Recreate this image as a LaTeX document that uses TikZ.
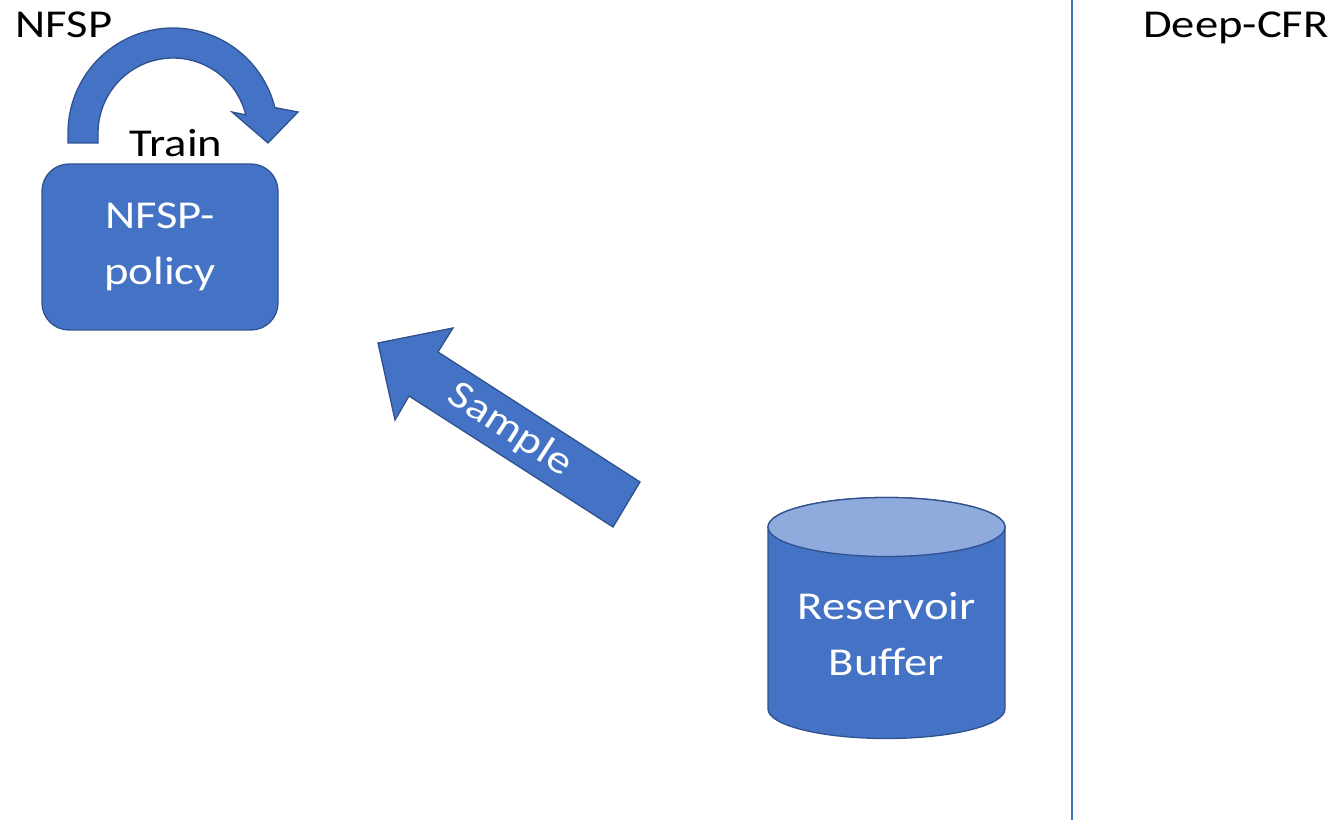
\documentclass[tikz,border=0pt]{standalone}
\usepackage{fontspec}
\setmainfont{Carlito}[FakeStretch=1.18]
\begin{document}
\begin{tikzpicture}[x=1pt,y=1pt,
  every node/.style={font=\fontsize{39.5}{56}\selectfont, inner sep=0pt},
  blockfill/.style={fill=accent, draw=accentdark, line width=1.3pt},
  whitetext/.style={text=white, align=center},
  label/.style={text=black, anchor=base}]
\definecolor{accent}{HTML}{4472C4}
\definecolor{accentdark}{HTML}{2F528F}
\definecolor{accentlight}{HTML}{8FAADC}
\useasboundingbox (0,0) rectangle (1338,822);

% section titles and divider
\node[label] (nfsp) at (64,784) {NFSP};
\node[label] (deepcfr) at (1236,784) {Deep-CFR};
\coordinate (divtop) at (1072,822);
\coordinate (divbot) at (1072,2);
\draw[accent, line width=1.3pt] (divtop) -- (divbot);

% policy network box
\node[blockfill, whitetext, rounded corners=27pt, minimum width=236pt, minimum height=166pt]
  (policy) at (160,575) {NFSP-\\policy};

% curved training arrow over the box
\path[blockfill] (68,679) -- (68,689) arc[start angle=180, end angle=14, radius=105]
  -- (298,710) -- (268,679) -- (232,710) -- (245.8,707.1)
  arc[start angle=14, end angle=180, radius=75] -- (98,679) -- cycle;
\node[label] (train) at (176,665) {Train};

% reservoir buffer cylinder
\path[blockfill] (768,295) -- (768,113)
  arc[start angle=180, end angle=360, x radius=118.5, y radius=29.5]
  -- (1005,295) arc[start angle=0, end angle=180, x radius=118.5, y radius=29.5] -- cycle;
\path[fill=accentlight, draw=accentdark, line width=1.3pt] (886.5,295) ellipse[x radius=118.5, y radius=29.5];
\node[whitetext] (buffer) at (886.5,188) {Reservoir\\Buffer};

% sampling arrow from buffer to policy
\path[blockfill] (640,340) -- (438,470) -- (453,494) -- (378,479) -- (395,402) -- (409,426) -- (613,295) -- cycle;
\node[text=white, rotate=-33] (sample) at (510,392) {Sample};
\end{tikzpicture}
\end{document}
